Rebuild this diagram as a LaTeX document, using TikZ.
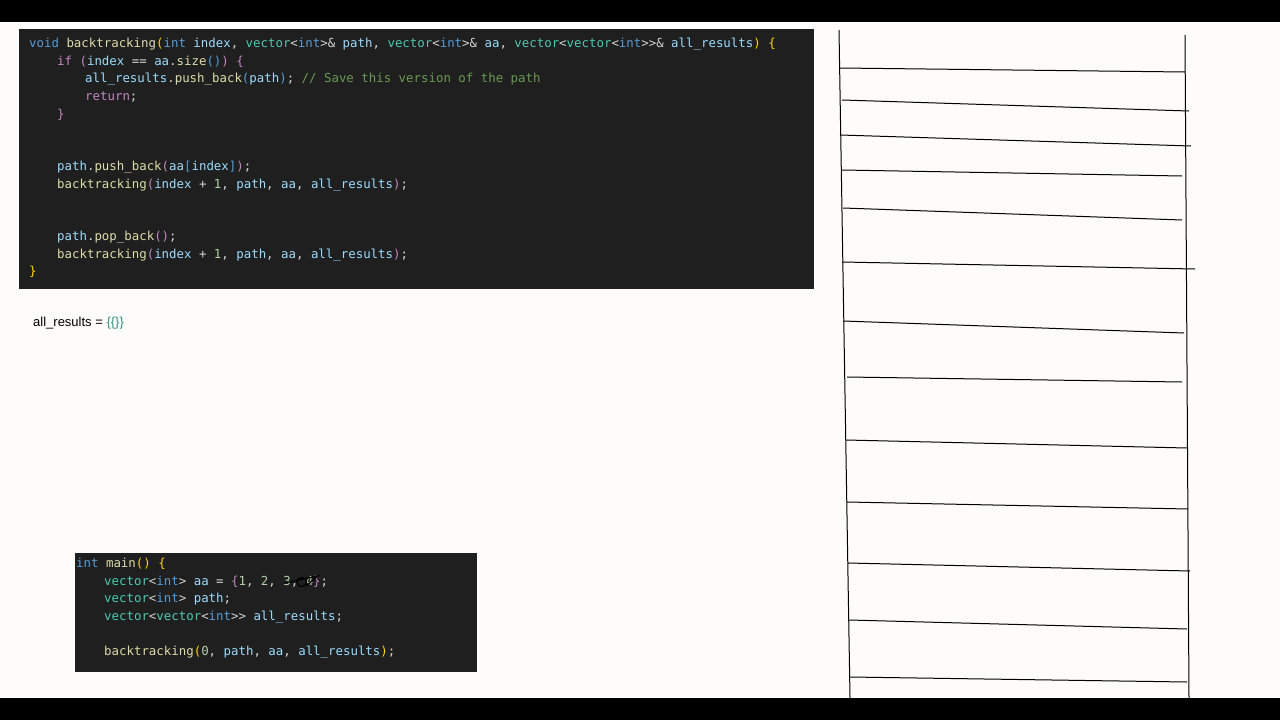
\documentclass[tikz,border=0pt]{standalone}
\usepackage{fontspec}
\setmainfont{Liberation Sans}
\setmonofont{DejaVu Sans Mono}
\usetikzlibrary{positioning}
\definecolor{codebg}{HTML}{1F1F1F}
\definecolor{paper}{HTML}{FDFCFA}
\definecolor{cK}{HTML}{569CD6}
\definecolor{cF}{HTML}{DCDCAA}
\definecolor{cV}{HTML}{9CDCFE}
\definecolor{cT}{HTML}{4EC9B0}
\definecolor{cP}{HTML}{C586C0}
\definecolor{cG}{HTML}{FFD700}
\definecolor{cC}{HTML}{6A9955}
\definecolor{cN}{HTML}{B5CEA8}
\definecolor{cD}{HTML}{D4D4D4}
\newcommand\K[1]{\textcolor{cK}{#1}}
\newcommand\F[1]{\textcolor{cF}{#1}}
\newcommand\V[1]{\textcolor{cV}{#1}}
\newcommand\Ty[1]{\textcolor{cT}{#1}}
\newcommand\Pu[1]{\textcolor{cP}{#1}}
\newcommand\Go[1]{\textcolor{cG}{#1}}
\newcommand\Cm[1]{\textcolor{cC}{#1}}
\newcommand\Nu[1]{\textcolor{cN}{#1}}
\begin{document}
\begin{tikzpicture}[x=1pt,y=-1pt,
    code/.style={anchor=west,inner sep=0pt,text=cD,font=\ttfamily\fontsize{12.4}{15}\selectfont},
    rung/.style={line width=1pt,black}]
  \useasboundingbox (0,0) rectangle (1280,720);
  \fill[paper] (0,0) rectangle (1280,720);
  \fill[black] (0,0) rectangle (1280,22);
  \fill[black] (0,698) rectangle (1280,720);
  % code panels
  \fill[codebg] (19,29) rectangle (814,289);
  \fill[codebg] (75,553) rectangle (477,672);
  \node[code] (l1) at (29,44) {\K{void} \F{backtracking}\Go{(}\K{int} \V{index}, \Ty{vector}<\K{int}>\& \V{path}, \Ty{vector}<\K{int}>\& \V{aa}, \Ty{vector}<\Ty{vector}<\K{int}>>\& \V{all\_results}\Go{)} \Go{\{}};
  \node[code] (l2) at (57,62) {\Pu{if} \Pu{(}\V{index} == \V{aa}.\F{size}\K{()}\Pu{)} \Pu{\{}};
  \node[code] (l3) at (85,79) {\V{all\_results}.\F{push\_back}\K{(}\V{path}\K{)}; \Cm{// Save this version of the path}};
  \node[code] (l4) at (85,97) {\Pu{return};};
  \node[code] (l5) at (57,115) {\Pu{\}}};
  \node[code] (l6) at (57,167) {\V{path}.\F{push\_back}\Pu{(}\V{aa}\K{[}\V{index}\K{]}\Pu{)};};
  \node[code] (l7) at (57,185) {\F{backtracking}\Pu{(}\V{index} + \Nu{1}, \V{path}, \V{aa}, \V{all\_results}\Pu{)};};
  \node[code] (l8) at (57,237) {\V{path}.\F{pop\_back}\Pu{()};};
  \node[code] (l9) at (57,255) {\F{backtracking}\Pu{(}\V{index} + \Nu{1}, \V{path}, \V{aa}, \V{all\_results}\Pu{)};};
  \node[code] (l10) at (29,272) {\Go{\}}};
  \node[anchor=west,inner sep=0pt,font=\fontsize{13}{15}\selectfont] (res) at (33,323) {all\_results = \textcolor{cT!70!black}{\{\{\}\}}};
  \node[code] (m1) at (76,564) {\K{int} \F{main}\Go{()} \Go{\{}};
  \node[code] (m2) at (104,582) {\Ty{vector}<\K{int}> \V{aa} = \Pu{\{}\Nu{1}, \Nu{2}, \Nu{3}, \Nu{4}\Pu{\}};};
  \node[code] (m3) at (104,599) {\Ty{vector}<\K{int}> \V{path};};
  \node[code] (m4) at (104,617) {\Ty{vector}<\Ty{vector}<\K{int}>> \V{all\_results};};
  \node[code] (m5) at (104,652) {\F{backtracking}\Go{(}\Nu{0}, \V{path}, \V{aa}, \V{all\_results}\Go{)};};
  % scribble over the last element
  \draw[black,line width=1.2pt] (284,583) -- (296,581) .. controls (300,576) and (308,576) .. (306,584)
    .. controls (302,589) and (295,586) .. (298,580) -- (318,576) -- (306,586);
  % stack ladder
  \draw[rung] (839,30) -- (850,698);
  \draw[rung] (1185,35) -- (1189,698);
  \foreach \xa/\ya/\xb/\yb in {840/68/1185/72, 842/100/1189/111, 840/135/1191/146, 842/170/1182/176,
      843/208/1182/220, 842/262/1195/269, 843/321/1184/333, 847/377/1182/382, 846/440/1187/448,
      847/502/1188/509, 848/563/1190/571, 849/620/1187/629, 850/677/1187/682}
    \draw[rung] (\xa,\ya) -- (\xb,\yb);
\end{tikzpicture}
\end{document}
